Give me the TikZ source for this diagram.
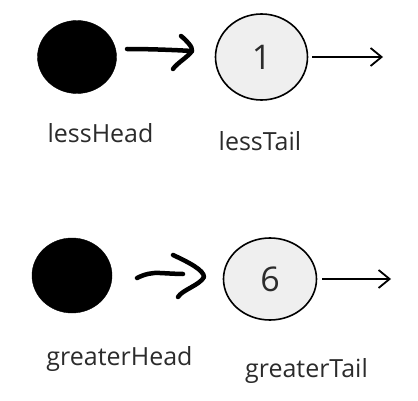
\documentclass[tikz,border=0pt]{standalone}
\usepackage{fontspec}
\setmainfont{Open Sans}
\usetikzlibrary{arrows.meta,shapes.geometric}
\definecolor{txt}{HTML}{2B2B2B}
\definecolor{nodefill}{HTML}{EFEFEF}
\tikzset{
  headnode/.style={ellipse, fill=black, draw=black, inner sep=0pt},
  valnode/.style={ellipse, fill=nodefill, draw=black, line width=1.6pt, inner sep=0pt, text=txt, font=\fontsize{34}{38}\selectfont},
  lbl/.style={anchor=base, text=txt, font=\fontsize{25}{29}\selectfont, inner sep=0pt},
  hand/.style={line width=4.5pt, line cap=round, line join=round},
  nextarrow/.style={line width=1.8pt, -{Straight Barb[length=11pt,width=18pt,line width=1.8pt]}}
}
\begin{document}
\begin{tikzpicture}[x=1pt,y=1pt]
\useasboundingbox (0,0) rectangle (418,400);
% top row
\node[headnode, minimum width=79pt, minimum height=73pt] (lh) at (77,343) {};
\node[valnode, minimum width=92pt, minimum height=86pt] (lt) at (261.5,343) {1};
\node[lbl] (lhl) at (100.5,258) {lessHead};
\node[lbl] (ltl) at (260,250) {lessTail};
\coordinate (lend) at (383,343);
\draw[nextarrow] ([xshift=4pt]lt.east) -- (lend);
% hand-drawn arrow top
\coordinate (a1s) at (127,351);
\coordinate (a1t) at (192,349);
\draw[hand] (a1s) .. controls (150,351) and (175,350) .. (a1t);
\draw[hand] (181,364) .. controls (186,360) and (193,353) .. (a1t)
  .. controls (188,343) and (177,337) .. (173,331);
% bottom row
\node[headnode, minimum width=80pt, minimum height=75pt] (gh) at (72,124.5) {};
\node[valnode, minimum width=93pt, minimum height=82pt] (gt) at (270,121) {6};
\node[lbl] (ghl) at (119.5,35) {greaterHead};
\node[lbl] (gtl) at (306.5,23) {greaterTail};
\coordinate (gend) at (391,121);
\draw[nextarrow] ([xshift=5pt]gt.east) -- (gend);
% hand-drawn arrow bottom
\coordinate (a2s) at (137,122);
\coordinate (a2t) at (204,123);
\draw[hand] (a2s) .. controls (145,126) and (152,127.5) .. (160,127) .. controls (170,126.5) and (178,126) .. (183,126);
\draw[hand] (173,145) .. controls (188,138) and (204,130) .. (a2t)
  .. controls (200,115) and (182,110) .. (178,103);
\end{tikzpicture}
\end{document}
